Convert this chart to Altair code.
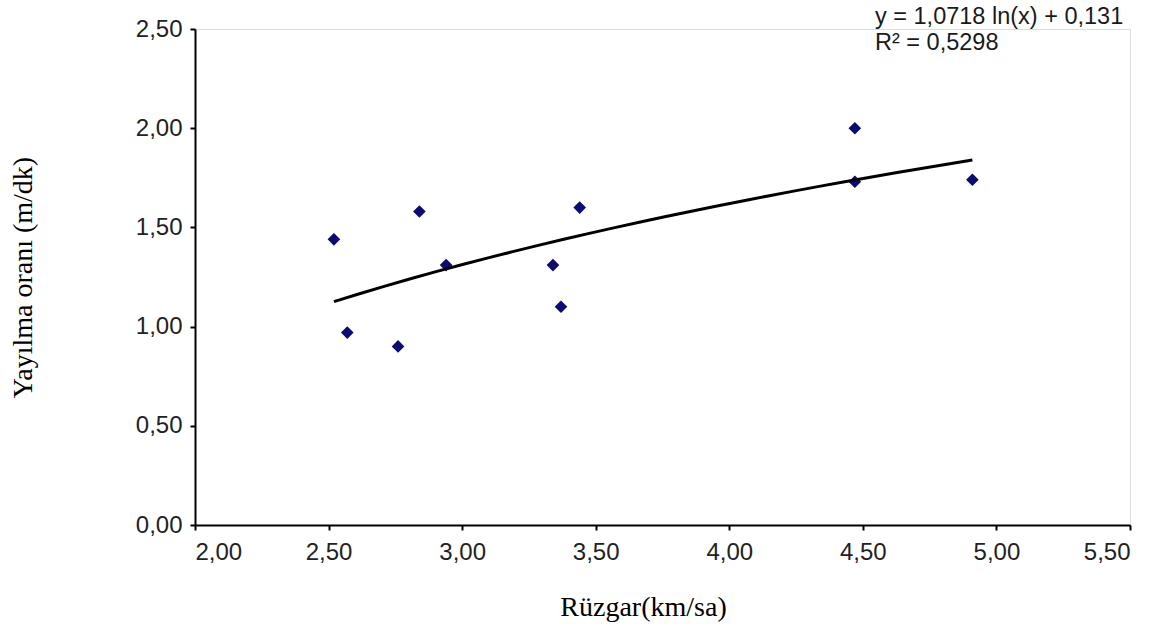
import altair as alt
import pandas as pd

# Data
wind = [2.52, 2.57, 2.76, 2.84, 2.94, 3.34, 3.37, 3.44, 4.47, 4.47, 4.91]
spread = [1.44, 0.97, 0.90, 1.58, 1.31, 1.31, 1.10, 1.60, 2.00, 1.73, 1.74]
x_ticks = [2.0, 2.5, 3.0, 3.5, 4.0, 4.5, 5.0, 5.5]
y_ticks = [0.0, 0.5, 1.0, 1.5, 2.0, 2.5]
eq_lines = ["y = 1,0718 ln(x) + 0,131", "R² = 0,5298"]

df = pd.DataFrame({"x": wind, "y": spread})

label_expr = "replace(format(datum.value, '.2f'), '.', ',')"

x_enc = alt.X(
    "x:Q",
    scale=alt.Scale(domain=[2.0, 5.5], nice=False, zero=False),
    axis=alt.Axis(
        values=x_ticks,
        labelExpr=label_expr,
        title="Rüzgar(km/sa)",
        titleFont="Liberation Serif",
        titleFontSize=28,
        titleFontWeight="normal",
        titleColor="#000000",
        titleX=448,
        titleY=90,
        titleAlign="center",
        titleBaseline="alphabetic",
        labelFont="Liberation Sans",
        labelFontSize=24,
        labelColor="#222222",
        labelPadding=10,
        domainColor="#000000",
        domainWidth=2,
        tickColor="#000000",
        tickWidth=2,
        tickSize=5,
        grid=False,
    ),
)
y_enc = alt.Y(
    "y:Q",
    scale=alt.Scale(domain=[0.0, 2.5], nice=False),
    axis=alt.Axis(
        values=y_ticks,
        labelExpr=label_expr,
        title="Yayılma oranı (m/dk)",
        titleFont="Liberation Serif",
        titleFontSize=28,
        titleFontWeight="normal",
        titleColor="#000000",
        titleAngle=-90,
        titleX=-172,
        titleY=248,
        titleAlign="center",
        titleBaseline="middle",
        labelFont="Liberation Sans",
        labelFontSize=24,
        labelColor="#222222",
        labelPadding=8,
        domainColor="#000000",
        domainWidth=2,
        tickColor="#000000",
        tickWidth=2,
        tickSize=5,
        grid=False,
    ),
)

points = alt.Chart(df).mark_point(
    shape="diamond", filled=True, color="#0b0b70", size=160, opacity=1
).encode(x=x_enc, y=y_enc)

trend = alt.Chart(df).transform_regression(
    "x", "y", method="log"
).mark_line(color="#000000", strokeWidth=3).encode(
    x=alt.X("x:Q"), y=alt.Y("y:Q")
)

chart = alt.layer(points, trend).properties(
    width=935,
    height=496,
    title=alt.TitleParams(
        text=eq_lines,
        anchor="end",
        align="left",
        dx=-255,
        offset=0,
        dy=37,
        font="Liberation Sans",
        fontSize=23.5,
        fontWeight="normal",
        color="#1a1a1a",
        lineHeight=26,
        frame="group",
    ),
    autosize=alt.AutoSizeParams(type="none"),
    padding={"left": 195, "top": 29, "right": 26, "bottom": 107},
).configure_view(stroke=None).configure(background="#ffffff")

chart.save("out.html", embed_options={"renderer": "svg", "actions": False})
